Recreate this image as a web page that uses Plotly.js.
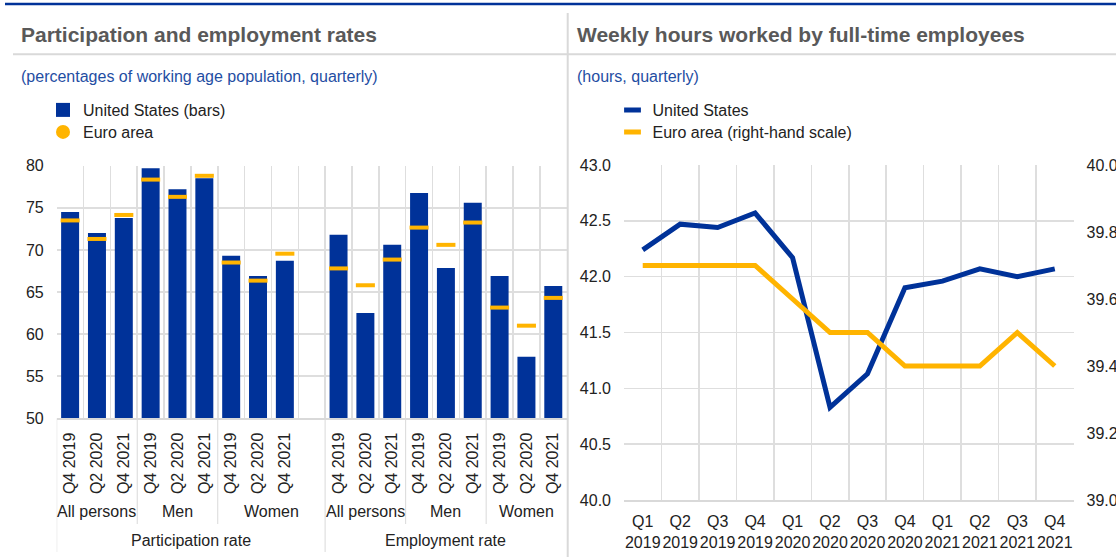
<!DOCTYPE html>
<html><head><meta charset="utf-8">
<script src="https://cdn.plot.ly/plotly-3.0.1.min.js"></script>
<style>html,body{margin:0;padding:0;background:#fff;} #chart{width:1116px;height:557px;}</style>
</head><body><div id="chart"></div>
<script>
// ---- data ----
const rateLabels = ["Participation rate", "Employment rate"];
const groupLabels = ["All persons", "Men", "Women"];
const periodLabels = ["Q4 2019", "Q2 2020", "Q4 2021"];
const usParticipation = [74.5, 72.0, 73.8, 79.7, 77.2, 78.5, 69.3, 66.9, 68.7];
const euParticipation = [73.5, 71.3, 74.15, 78.35, 76.3, 78.8, 68.5, 66.35, 69.55];
const usEmployment = [71.8, 62.5, 70.6, 76.75, 67.85, 75.6, 66.9, 57.3, 65.7];
const euEmployment = [67.8, 65.8, 68.85, 72.65, 70.6, 73.25, 63.15, 61.0, 64.3];

const quarterLabels = ["Q1 2019","Q2 2019","Q3 2019","Q4 2019","Q1 2020","Q2 2020","Q3 2020","Q4 2020","Q1 2021","Q2 2021","Q3 2021","Q4 2021"];
const usHours = [42.24, 42.47, 42.44, 42.57, 42.17, 40.83, 41.13, 41.90, 41.96, 42.07, 42.00, 42.07];
const euHours = [39.7, 39.7, 39.7, 39.7, 39.6, 39.5, 39.5, 39.4, 39.4, 39.4, 39.5, 39.4];

// ---- styling ----
const W = 1116, H = 557;
const BLUE = '#003299', YELLOW = '#FFB400', GRID = '#dedede', SEP = '#d9d9d9';
const FONT = '"Liberation Sans", Arial, sans-serif';
const px = v => v / W, py = v => 1 - v / H;

// ---- left chart categories ----
const blocks = [[usParticipation, euParticipation], [usEmployment, euEmployment]];
const cats = [], tickText = [], usBars = [], euMarks = [], blockStart = [];
blocks.forEach((b, bi) => {
  if (bi > 0) { cats.push('gap' + bi); tickText.push(''); usBars.push(null); euMarks.push(null); }
  blockStart.push(cats.length);
  groupLabels.forEach((g, gi) => {
    periodLabels.forEach((p, pi) => {
      cats.push(rateLabels[bi] + '|' + g + '|' + p);
      tickText.push(p);
      usBars.push(b[0][gi * 3 + pi]);
      euMarks.push(b[1][gi * 3 + pi]);
    });
  });
});

const shapes = [
  {type:'line', xref:'paper', yref:'paper', x0:px(5), x1:1, y0:py(4), y1:py(4), line:{color:BLUE, width:2.5}},
  {type:'line', xref:'paper', yref:'paper', x0:px(13), x1:1, y0:py(54.3), y1:py(54.3), line:{color:SEP, width:2}},
  {type:'line', xref:'paper', yref:'paper', x0:px(567.7), x1:px(567.7), y0:py(13), y1:0, line:{color:SEP, width:2}}
];
const annotations = [
  {xref:'paper', yref:'paper', x:px(19), y:py(34), xanchor:'left', yanchor:'middle', showarrow:false,
   text:'Participation and employment rates', font:{family:FONT, size:21, weight:'bold', color:'#595959'}},
  {xref:'paper', yref:'paper', x:px(575), y:py(34), xanchor:'left', yanchor:'middle', showarrow:false,
   text:'Weekly hours worked by full-time employees', font:{family:FONT, size:21, weight:'bold', color:'#595959'}},
  {xref:'paper', yref:'paper', x:px(19), y:py(76), xanchor:'left', yanchor:'middle', showarrow:false,
   text:'(percentages of working age population, quarterly)', font:{family:FONT, size:16, color:'#1f4ea3'}},
  {xref:'paper', yref:'paper', x:px(575), y:py(76), xanchor:'left', yanchor:'middle', showarrow:false,
   text:'(hours, quarterly)', font:{family:FONT, size:16, color:'#1f4ea3'}}
];
const axisBottom = py(418.3);
blocks.forEach((b, bi) => {
  const s = blockStart[bi];
  const e = bi < blocks.length - 1 ? blockStart[bi + 1] - 0.5 : cats.length - 0.5;
  shapes.push({type:'line', xref:'x', yref:'paper', x0:s - 0.5, x1:s - 0.5, y0:axisBottom, y1:py(552), line:{color:SEP, width:1}});
  annotations.push({xref:'x', yref:'paper', x:(s - 0.5 + e) / 2, y:py(540), xanchor:'center', yanchor:'middle', showarrow:false,
    text:rateLabels[bi], font:{family:FONT, size:16, color:'#222'}});
  groupLabels.forEach((g, gi) => {
    const l = s + gi * 3 - 0.5;
    const r = gi < groupLabels.length - 1 ? l + 3 : e;
    if (gi > 0) shapes.push({type:'line', xref:'x', yref:'paper', x0:l, x1:l, y0:axisBottom, y1:py(524), line:{color:SEP, width:1}});
    annotations.push({xref:'x', yref:'paper', x:(l + r) / 2, y:py(511), xanchor:'center', yanchor:'middle', showarrow:false,
      text:g, font:{family:FONT, size:16, color:'#222'}});
  });
});

const legendBase = {xanchor:'left', yanchor:'middle', bgcolor:'rgba(0,0,0,0)', borderwidth:0, font:{family:FONT, size:16, color:'#222'}};

const traces = [
  {type:'bar', x:cats, y:usBars, marker:{color:BLUE}, xaxis:'x', yaxis:'y', showlegend:false, hoverinfo:'skip'},
  {type:'scatter', mode:'markers', x:cats, y:euMarks, xaxis:'x', yaxis:'y', showlegend:false, cliponaxis:false, hoverinfo:'skip',
   marker:{symbol:'line-ew', size:13.6, color:YELLOW, line:{width:4, color:YELLOW}}},
  {type:'scatter', mode:'lines', x:quarterLabels, y:usHours, xaxis:'x2', yaxis:'y2', showlegend:false, line:{color:BLUE, width:5}, hoverinfo:'skip'},
  {type:'scatter', mode:'lines', x:quarterLabels, y:euHours, xaxis:'x2', yaxis:'y3', showlegend:false, line:{color:YELLOW, width:5}, hoverinfo:'skip'},
  // legend entries
  {type:'scatter', mode:'markers', x:[null], y:[null], xaxis:'x', yaxis:'y', name:'United States (bars)', legend:'legend',
   marker:{symbol:'square', size:14, color:BLUE}},
  {type:'scatter', mode:'markers', x:[null], y:[null], xaxis:'x', yaxis:'y', name:'Euro area', legend:'legend2',
   marker:{symbol:'circle', size:14, color:YELLOW}},
  {type:'scatter', mode:'markers', x:[null], y:[null], xaxis:'x2', yaxis:'y2', name:'United States', legend:'legend3',
   marker:{symbol:'line-ew', size:12, color:BLUE, line:{width:5, color:BLUE}}},
  {type:'scatter', mode:'markers', x:[null], y:[null], xaxis:'x2', yaxis:'y2', name:'Euro area (right-hand scale)', legend:'legend4',
   marker:{symbol:'line-ew', size:12, color:YELLOW, line:{width:5, color:YELLOW}}}
];

const layout = {
  width:W, height:H, margin:{l:0, r:0, t:0, b:0},
  paper_bgcolor:'#ffffff', plot_bgcolor:'rgba(0,0,0,0)',
  font:{family:FONT, size:16, color:'#222'},
  bargap:0.33, showlegend:true, hovermode:false,
  legend:Object.assign({x:px(43), y:py(110)}, legendBase),
  legend2:Object.assign({x:px(43), y:py(132)}, legendBase),
  legend3:Object.assign({x:px(612.5), y:py(110)}, legendBase),
  legend4:Object.assign({x:px(612.5), y:py(132)}, legendBase),
  xaxis:{domain:[px(56.7), px(566.7)], anchor:'y', type:'category', categoryorder:'array', categoryarray:cats,
    tickmode:'array', tickvals:cats, ticktext:tickText, tickangle:-90, tickson:'boundaries',
    showgrid:true, gridcolor:GRID, gridwidth:1.5, ticks:'', showline:true, linecolor:SEP, linewidth:2,
    range:[-0.5, cats.length - 0.5], fixedrange:true, ticklabelstandoff:6, tickfont:{size:16, color:'#222'}},
  yaxis:{domain:[py(418.3), py(165.7)], anchor:'x', range:[50, 80], dtick:5, tick0:50,
    showgrid:true, gridcolor:GRID, gridwidth:1.5, ticks:'', zeroline:false, fixedrange:true,
    ticklabelstandoff:12, tickfont:{size:16, color:'#222'}},
  xaxis2:{domain:[px(624), px(1073.5)], anchor:'y2', type:'category', categoryorder:'array', categoryarray:quarterLabels,
    tickmode:'array', tickvals:quarterLabels, ticktext:quarterLabels.map(q => q.replace(' ', '<br>')), tickangle:0,
    tickson:'boundaries', showgrid:true, gridcolor:GRID, gridwidth:1.5, ticks:'', showline:true, linecolor:SEP, linewidth:2,
    range:[-0.5, quarterLabels.length - 0.5], fixedrange:true, ticklabelstandoff:6, tickfont:{size:16, color:'#222'}},
  yaxis2:{domain:[py(500), py(165)], anchor:'x2', range:[40, 43], dtick:0.5, tick0:40, tickformat:'.1f',
    showgrid:true, gridcolor:GRID, gridwidth:1.5, ticks:'', zeroline:false, fixedrange:true,
    ticklabelstandoff:12, tickfont:{size:16, color:'#222'}},
  yaxis3:{overlaying:'y2', anchor:'x2', side:'right', range:[39, 40], dtick:0.2, tick0:39, tickformat:'.1f',
    showgrid:false, ticks:'', zeroline:false, fixedrange:true, ticklabelstandoff:12, tickfont:{size:16, color:'#222'}},
  shapes:shapes, annotations:annotations
};

Plotly.newPlot('chart', traces, layout, {staticPlot:true, displayModeBar:false});
</script>
</body></html>
